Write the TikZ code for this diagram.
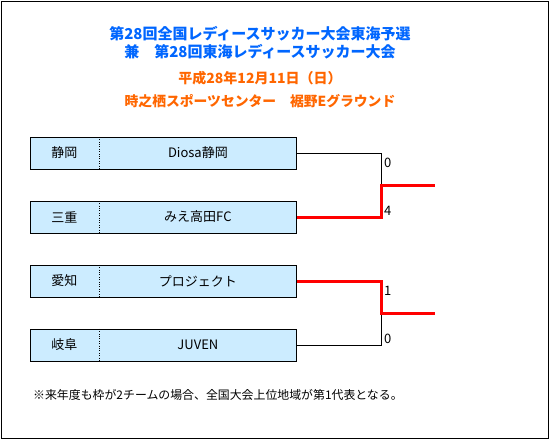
\documentclass[tikz,border=0pt]{standalone}
\usepackage{fontspec}
\setmainfont{Noto Sans CJK JP}
\usetikzlibrary{positioning}
\definecolor{ttlblue}{RGB}{0,102,255}
\definecolor{ttlorange}{RGB}{255,102,0}
\definecolor{boxblue}{RGB}{204,236,255}
\begin{document}
\begin{tikzpicture}[x=1pt, y=-1pt, every node/.style={inner sep=0pt},
    pref/.style={fill=boxblue, minimum width=69pt, minimum height=32pt, font=\fontsize{13}{15}\selectfont},
    team/.style={fill=boxblue, minimum width=197pt, minimum height=32pt, font=\fontsize{13}{15}\selectfont},
    score/.style={anchor=west, font=\fontsize{13}{15}\selectfont},
    win/.style={red, line width=3pt},
    lose/.style={black, line width=1pt}]
    \useasboundingbox (0,0) rectangle (550,440);
    \draw[line width=1pt] (1,1) rectangle (548,438);
    \node[text=ttlblue, font=\fontsize{15}{17}\selectfont\bfseries] (l1) at (260,34) {第28回全国レディースサッカー大会東海予選};
    \node[text=ttlblue, font=\fontsize{15}{17}\selectfont\bfseries] (l2) at (260,52) {兼　第28回東海レディースサッカー大会};
    \node[text=ttlorange, font=\fontsize{14}{17}\selectfont\bfseries] (l3) at (260,78) {平成28年12月11日（日）};
    \node[text=ttlorange, font=\fontsize{13.8}{17}\selectfont\bfseries] (l4) at (260,101) {時之栖スポーツセンター　裾野Eグラウンド};
    \node[pref] (p1) at (64.5,153) {静岡};
    \node[team, right=0pt of p1] (t1) {Diosa静岡};
    \node[pref] (p2) at (64.5,217) {三重};
    \node[team, right=0pt of p2] (t2) {みえ高田FC};
    \node[pref] (p3) at (64.5,281) {愛知};
    \node[team, right=0pt of p3] (t3) {プロジェクト};
    \node[pref] (p4) at (64.5,345) {岐阜};
    \node[team, right=0pt of p4] (t4) {JUVEN};
    \foreach \i in {1,...,4} {
        \draw (p\i.north west) rectangle (t\i.south east);
        \draw[dotted] (p\i.north east) -- (p\i.south east);
    }
    \coordinate (j1) at (381,185);
    \coordinate (j2) at (381,313);
    \coordinate (w1) at (435,185);
    \coordinate (w2) at (435,313);
    \draw[lose] (t1.east) -| (j1);
    \draw[lose] (t4.east) -| (j2);
    \draw[win] (t2.east) -| (j1) -- (w1);
    \draw[win] (t3.east) -| (j2) -- (w2);
    \node[score] (s1) at (384,163) {0};
    \node[score] (s2) at (384,211) {4};
    \node[score] (s3) at (384,291) {1};
    \node[score] (s4) at (384,339) {0};
    \node[anchor=west, font=\fontsize{11.9}{14}\selectfont] (note) at (33,395) {※来年度も枠が2チームの場合、全国大会上位地域が第1代表となる。};
\end{tikzpicture}
\end{document}
